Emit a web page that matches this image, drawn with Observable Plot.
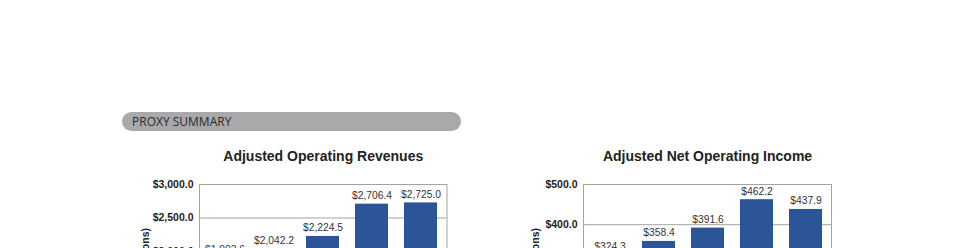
<!DOCTYPE html>
<html><head><meta charset="utf-8">
<script src="https://cdn.jsdelivr.net/npm/d3@7"></script>
<script src="https://cdn.jsdelivr.net/npm/@observablehq/plot@0.6"></script>
<style>
html,body{margin:0;padding:0;background:#fff;width:960px;height:248px;overflow:hidden;}
#root{position:relative;width:960px;height:248px;overflow:hidden;}
.bar-header{position:absolute;left:122px;top:112px;width:339px;height:19px;border-radius:9.5px;background:#a9a9ab;font-family:"Open Sans",sans-serif;font-size:12px;color:#2b2b2b;line-height:19px;padding-left:10px;box-sizing:border-box;}
.chart{position:absolute;top:140px;}
</style></head>
<body>
<div id="root">
  <div class="bar-header">PROXY SUMMARY</div>
  <div id="c1" class="chart" style="left:100px"></div>
  <div id="c2" class="chart" style="left:490px"></div>
</div>
<script>
const years = ["2009", "2010", "2011", "2012", "2013"];
const revenues = [1903.6, 2042.2, 2224.5, 2706.4, 2725.0];
const income = [324.3, 358.4, 391.6, 462.2, 437.9];
const revTicks = [0, 500, 1000, 1500, 2000, 2500, 3000];
const incTicks = [0, 100, 200, 300, 400, 500];
const revTitle = "Adjusted Operating Revenues";
const incTitle = "Adjusted Net Operating Income";
const yLabel = "($ in millions)";

const fmt = d3.format("$,.1f");

function chart({title, values, ticks, max, width, marginLeft, marginRight, labelDx}) {
  const data = years.map((year, i) => ({year, value: values[i]}));
  return Plot.plot({
    width, height: 265, marginTop: 44, marginBottom: 20, marginLeft, marginRight,
    style: {fontFamily: "'Liberation Sans', Arial, sans-serif", background: "transparent", overflow: "visible"},
    x: {type: "band", domain: years, paddingInner: 0.33, paddingOuter: 0.165, axis: null},
    y: {domain: [0, max], axis: null},
    marks: [
      Plot.gridY(ticks, {stroke: "#a3a3a3", strokeOpacity: 1}),
      Plot.barY(data, {x: "year", y: "value", fill: "#2b5597"}),
      Plot.frame({stroke: "#a3a3a3"}),
      Plot.axisY(ticks, {tickSize: 0, tickPadding: 6, tickFormat: fmt, fontWeight: "bold", fontSize: 10.5, fill: "#222", label: null}),
      Plot.text(data, {x: "year", y: "value", text: d => fmt(d.value), dy: -5, lineAnchor: "bottom", fontSize: 10.3, fill: "#333"}),
      Plot.text([title], {frameAnchor: "top", dy: -24, lineAnchor: "bottom", fontSize: 14, fontWeight: "bold", fill: "#222"}),
      Plot.text([yLabel], {frameAnchor: "top-left", dx: labelDx, dy: 43.5, rotate: -90, textAnchor: "end", fontSize: 10.5, fontWeight: "bold", fill: "#222"})
    ]
  });
}

document.getElementById("c1").append(chart({title: revTitle, values: revenues, ticks: revTicks, max: 3000, width: 360, marginLeft: 99, marginRight: 13.5, labelDx: -58}));
document.getElementById("c2").append(chart({title: incTitle, values: income, ticks: incTicks, max: 500, width: 354, marginLeft: 93, marginRight: 13, labelDx: -51.5}));
</script>
</body></html>
